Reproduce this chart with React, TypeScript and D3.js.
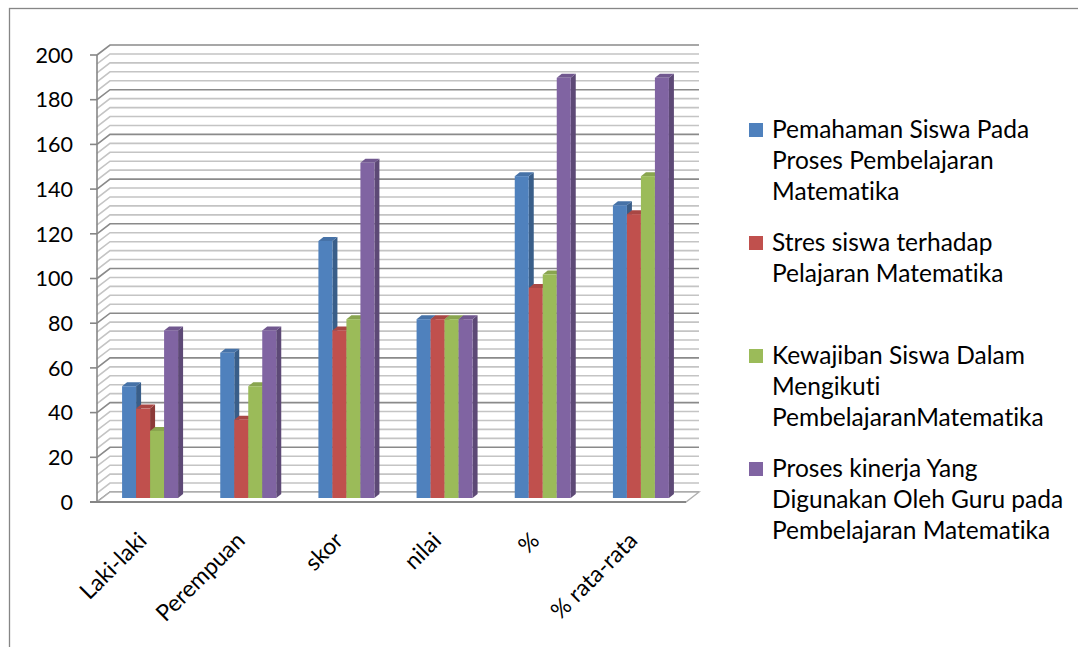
import React, { useEffect, useRef } from 'react';
import * as d3 from 'd3';

const categories = ['Laki-laki', 'Perempuan', 'skor', 'nilai', '%', '% rata-rata'];

const seriesNames = [
  ['Pemahaman Siswa Pada', 'Proses Pembelajaran', 'Matematika'],
  ['Stres siswa terhadap', 'Pelajaran Matematika'],
  ['Kewajiban Siswa Dalam', 'Mengikuti', 'PembelajaranMatematika'],
  ['Proses kinerja Yang', 'Digunakan Oleh Guru pada', 'Pembelajaran Matematika'],
];

const pemahaman = [50, 65, 115, 80, 144, 131];
const stres = [40, 35, 75, 80, 94, 127];
const kewajiban = [30, 50, 80, 80, 100, 144];
const kinerja = [75, 75, 150, 80, 188, 188];

const seriesValues = [pemahaman, stres, kewajiban, kinerja];
const seriesColors = ['#4F81BD', '#C0504D', '#9BBB59', '#8064A2'];

const yTicks = [0, 20, 40, 60, 80, 100, 120, 140, 160, 180, 200];

const W = 1078;
const H = 647;
const FONT = 'Lato, "Open Sans", sans-serif';

const App: React.FC = () => {
  const svgRef = useRef<SVGSVGElement>(null);

  useEffect(() => {
    if (!svgRef.current) return;
    const svg = d3.select(svgRef.current);
    svg.selectAll('*').remove();

    const left = 97;
    const right = 686;
    const depthX = 13;
    const depthY = -10;

    const x = d3.scaleBand<string>().domain(categories).range([left, right]);
    const y = d3.scaleLinear().domain([0, 200]).range([502, 55]);
    const inner = d3.scaleBand<number>().domain([0, 1, 2, 3]).range([0, 56]);

    // outer frame
    svg.append('rect')
      .attr('x', 9.5).attr('y', 8.5)
      .attr('width', W + 20).attr('height', H + 20)
      .attr('fill', '#fff')
      .attr('stroke', '#868686')
      .attr('stroke-width', 1.3);

    // walls: gridlines every 4, major every 20
    const grid = svg.append('g').attr('fill', 'none');
    d3.range(0, 201, 4).forEach((v) => {
      const major = v % 20 === 0;
      const yy = y(v);
      grid.append('path')
        .attr('d', `M${left},${yy}L${left + depthX},${yy + depthY}L${right + depthX},${yy + depthY}`)
        .attr('stroke', major ? '#8a8a8a' : '#c4c4c4')
        .attr('stroke-width', 1.6);
    });

    // floor
    svg.append('path')
      .attr('d', `M${left},${y(0)}L${right},${y(0)}L${right + depthX},${y(0) + depthY}L${left + depthX},${y(0) + depthY}Z`)
      .attr('fill', '#fff')
      .attr('stroke', '#b0b0b0')
      .attr('stroke-width', 1.4);

    // y axis
    svg.append('line')
      .attr('x1', left).attr('x2', left)
      .attr('y1', y(200)).attr('y2', y(0))
      .attr('stroke', '#868686').attr('stroke-width', 1.6);
    svg.append('line')
      .attr('x1', left - 7).attr('x2', right)
      .attr('y1', y(0)).attr('y2', y(0))
      .attr('stroke', '#868686').attr('stroke-width', 2);

    const yAxis = svg.append('g');
    yTicks.forEach((t) => {
      yAxis.append('line')
        .attr('x1', left - 7).attr('x2', left)
        .attr('y1', y(t)).attr('y2', y(t))
        .attr('stroke', '#868686').attr('stroke-width', 1.6);
      yAxis.append('text')
        .attr('x', 73).attr('y', y(t))
        .attr('dy', '0.36em')
        .attr('text-anchor', 'end')
        .attr('font-family', FONT)
        .attr('font-size', 21.5)
        .attr('fill', '#000')
        .text(t);
    });

    // bars
    const shiftX = 4;
    const shiftY = -4;
    const sideX = 5;
    const sideY = -4;
    const bw = inner.bandwidth();
    const bars = svg.append('g');
    categories.forEach((c, ci) => {
      const gx = (x(c) ?? 0) + (x.bandwidth() - 56) / 2 + shiftX;
      seriesValues.forEach((vals, si) => {
        const x0 = gx + (inner(si) ?? 0);
        const x1 = x0 + bw;
        const yb = y(0) + shiftY;
        const yt = y(vals[ci]) + shiftY;
        const base = d3.color(seriesColors[si])!;
        bars.append('path')
          .attr('d', `M${x1},${yb}L${x1 + sideX},${yb + sideY}L${x1 + sideX},${yt + sideY}L${x1},${yt}Z`)
          .attr('fill', base.darker(0.9).formatHex());
        bars.append('path')
          .attr('d', `M${x0},${yt}L${x1},${yt}L${x1 + sideX},${yt + sideY}L${x0 + sideX},${yt + sideY}Z`)
          .attr('fill', base.darker(0.35).formatHex());
        bars.append('rect')
          .attr('x', x0).attr('y', yt)
          .attr('width', bw).attr('height', yb - yt)
          .attr('fill', seriesColors[si]);
      });
    });

    // category labels
    const xAxis = svg.append('g');
    categories.forEach((c) => {
      const cx = (x(c) ?? 0) + x.bandwidth() / 2;
      xAxis.append('text')
        .attr('transform', `translate(${cx + 2},${542}) rotate(-45)`)
        .attr('text-anchor', 'end')
        .attr('font-family', FONT)
        .attr('font-size', 23)
        .attr('fill', '#000')
        .style('font-variant-ligatures', 'none')
        .text(c);
    });

    // legend
    const legend = svg.append('g');
    seriesNames.forEach((lines, si) => {
      const base = 138 + si * 113;
      legend.append('rect')
        .attr('x', 749).attr('y', base - 15)
        .attr('width', 14).attr('height', 14)
        .attr('fill', seriesColors[si]);
      lines.forEach((ln, li) => {
        legend.append('text')
          .attr('x', 772).attr('y', base + li * 31)
          .attr('font-family', FONT)
          .attr('font-size', 24.5)
          .attr('fill', '#000')
          .style('font-variant-ligatures', 'none')
          .text(ln);
      });
    });
  }, []);

  return (
    <div style={{ position: 'fixed', left: 0, top: 0, width: W, height: H, background: '#fff' }}>
      <svg ref={svgRef} width={W} height={H} />
    </div>
  );
};

export default App;
